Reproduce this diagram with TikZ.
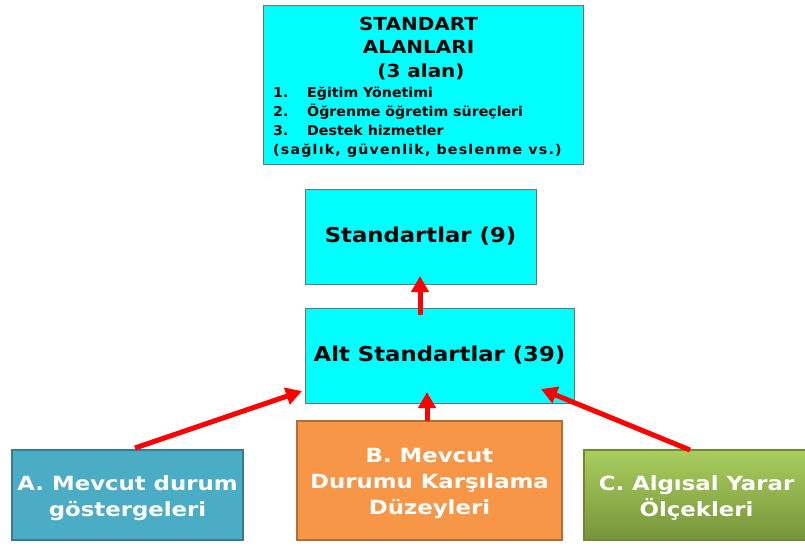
\documentclass[tikz,border=0pt]{standalone}
\usepackage{fontspec}
\setmainfont{DejaVu Sans}
\newfontfamily\hfont[FakeStretch=1.11]{DejaVu Sans}
\newfontfamily\ifont[FakeStretch=1.05]{DejaVu Sans}
\newfontfamily\bfont[FakeStretch=1.17]{DejaVu Sans}
\usetikzlibrary{arrows.meta}
\definecolor{cy}{HTML}{00FFFF}
\definecolor{cyb}{HTML}{707070}
\definecolor{ablue}{HTML}{4BACC6}
\definecolor{abord}{HTML}{357D91}
\definecolor{borange}{HTML}{F79646}
\definecolor{bbord}{HTML}{B66D31}
\definecolor{cgreenT}{HTML}{A9CD5E}
\definecolor{cgreenB}{HTML}{77953A}
\definecolor{cbord}{HTML}{6E8A36}
\definecolor{arr}{HTML}{FF0000}
\tikzset{
  cybox/.style={draw=cyb, fill=cy, line width=1pt, inner sep=0pt},
  botbox/.style={line width=1.5pt, inner sep=0pt},
  bottext/.style={text=white, font=\bfont\bfseries\fontsize{19.5}{26}\selectfont, align=center},
  redarrow/.style={draw=arr, line width=5pt, -{Triangle[length=16pt,width=17pt]}},
  head/.style={font=\hfont\bfseries\fontsize{18}{22}\selectfont, anchor=base, inner sep=0pt},
  item/.style={font=\ifont\bfseries\fontsize{13.5}{16}\selectfont, anchor=base west, inner sep=0pt},
  big/.style={font=\hfont\bfseries\fontsize{20.5}{24}\selectfont},
}
\begin{document}
\begin{tikzpicture}[x=1pt,y=-1pt]
\useasboundingbox[fill=white] (0,0) rectangle (805,547);
% top box
\node[cybox, minimum width=320pt, minimum height=159pt] (top) at (423,84.5) {};
\node[head] (t1) at (418.5,30) {STANDART};
\node[head] (t2) at (418.5,53) {ALANLARI};
\node[head] (t3) at (421,77) {(3 alan)};
\node[item] (n1) at (273,97) {1.};
\node[item] (i1) at (307,97) {Eğitim Yönetimi};
\node[item] (n2) at (273,116) {2.};
\node[item] (i2) at (307,116) {Öğrenme öğretim süreçleri};
\node[item] (n3) at (273,135) {3.};
\node[item] (i3) at (307,135) {Destek hizmetler};
\node[item] (i4) at (273,154) {\addfontfeature{LetterSpace=9}(sağlık, güvenlik, beslenme vs.)};
% standartlar
\node[cybox, minimum width=231pt, minimum height=95pt, big] (std) at (420.5,236.5) {Standartlar (9)};
\node[cybox, minimum width=269pt, minimum height=95pt, big] (alt) at (439.5,355.5) {Alt Standartlar (39)};
% bottom boxes
\node[botbox, draw=abord, fill=ablue, minimum width=231pt, minimum height=90pt] (A) at (127.5,495) {};
\node[bottext] (At) at ([yshift=-3pt]A.center) {A. Mevcut durum\\göstergeleri};
\node[botbox, draw=bbord, fill=borange, minimum width=265pt, minimum height=119pt] (B) at (429.5,480.5) {};
\node[bottext] (Bt) at ([yshift=-3pt]B.center) {B. Mevcut\\Durumu Karşılama\\Düzeyleri};
\node[botbox, draw=cbord, top color=cgreenT, bottom color=cgreenB, minimum width=225pt, minimum height=90pt] (C) at (696.5,495) {};
\node[bottext] (Ct) at ([yshift=-3pt]C.center) {C. Algısal Yarar\\Ölçekleri};
% arrows
\coordinate (a1) at (420,315);
\coordinate (a2) at (420,276);
\draw[redarrow] (a1) -- (a2);
\coordinate (ba) at (135,448);
\coordinate (bt) at (302,391);
\draw[redarrow] (ba) -- (bt);
\coordinate (bb) at (427,421);
\coordinate (bbt) at (427,392);
\draw[redarrow] (bb) -- (bbt);
\coordinate (ca) at (690,450);
\coordinate (ct) at (541,389);
\draw[redarrow] (ca) -- (ct);
\end{tikzpicture}
\end{document}
